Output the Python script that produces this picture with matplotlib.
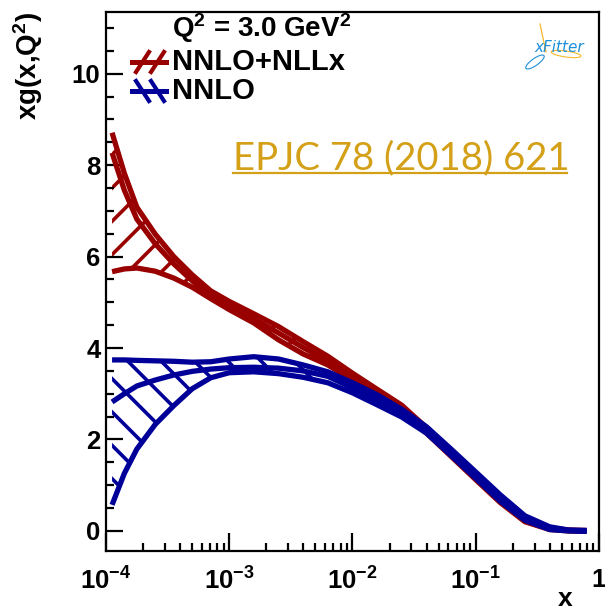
import matplotlib
matplotlib.use("Agg")
import matplotlib.pyplot as plt
from matplotlib.lines import Line2D
from matplotlib.patches import Ellipse
from matplotlib.ticker import FixedLocator, FixedFormatter, MultipleLocator

plt.rcParams['font.family'] = ['Liberation Sans', 'DejaVu Sans']
plt.rcParams['mathtext.fontset'] = 'custom'
plt.rcParams['mathtext.rm'] = 'Liberation Sans:bold'
plt.rcParams['mathtext.bf'] = 'Liberation Sans:bold'
plt.rcParams['mathtext.it'] = 'Liberation Sans:bold'
plt.rcParams['hatch.linewidth'] = 2.6

# x grid
x = [1.12e-4, 1.41e-4, 1.78e-4, 2.51e-4, 3.55e-4, 5.01e-4, 7.08e-4, 1e-3,
     1.58e-3, 2.51e-3, 3.98e-3, 6.31e-3, 1e-2, 1.58e-2, 2.51e-2, 3.98e-2,
     6.31e-2, 0.1, 0.158, 0.251, 0.398, 0.562, 0.794]

# NNLO+NLLx (red)
nllx_up = [8.71, 7.82, 7.08, 6.49, 6.00, 5.60, 5.25, 5.02,
           4.75, 4.47, 4.14, 3.82, 3.45, 3.10, 2.75, 2.26,
           1.74, 1.23, 0.72, 0.29, 0.07, 0.02, 0.01]
nllx_cen = [8.27, 7.45, 6.82, 6.28, 5.84, 5.47, 5.14, 4.92,
            4.64, 4.33, 4.01, 3.72, 3.37, 3.04, 2.68, 2.20,
            1.69, 1.18, 0.68, 0.25, 0.05, 0.01, 0.0]
nllx_lo = [5.67, 5.73, 5.75, 5.68, 5.53, 5.33, 5.08, 4.84,
           4.55, 4.18, 3.87, 3.63, 3.30, 2.98, 2.60, 2.14,
           1.63, 1.12, 0.62, 0.20, 0.03, 0.0, -0.01]

# NNLO (blue)
nnlo_up = [3.74, 3.74, 3.73, 3.72, 3.71, 3.69, 3.70, 3.76,
           3.81, 3.76, 3.63, 3.48, 3.24, 2.98, 2.66, 2.28,
           1.79, 1.29, 0.79, 0.33, 0.09, 0.02, 0.01]
nnlo_cen = [2.82, 3.00, 3.17, 3.30, 3.41, 3.49, 3.54, 3.57,
            3.58, 3.56, 3.50, 3.38, 3.13, 2.86, 2.57, 2.21,
            1.72, 1.22, 0.72, 0.28, 0.06, 0.01, 0.0]
nnlo_lo = [0.57, 1.26, 1.79, 2.33, 2.74, 3.11, 3.35, 3.46,
           3.48, 3.44, 3.36, 3.24, 3.02, 2.76, 2.49, 2.14,
           1.65, 1.15, 0.65, 0.23, 0.03, 0.0, -0.01]

yticks = [0, 2, 4, 6, 8, 10]
xticks = [1e-4, 1e-3, 1e-2, 1e-1, 1]
xticklabels = [r'$10^{-4}$', r'$10^{-3}$', r'$10^{-2}$', r'$10^{-1}$', r'$1$']

red = '#990000'
blue = '#000099'
gold = '#D4A017'
lw = 3.8

W, H = 605, 610
fig = plt.figure(figsize=(6.05, 6.10), dpi=100)
ax = fig.add_axes([0.1752, 0.0967, 0.8148, 0.8836])

for up, cen, lo, col, hat in [(nllx_up, nllx_cen, nllx_lo, red, '/'),
                              (nnlo_up, nnlo_cen, nnlo_lo, blue, '\\')]:
    ax.fill_between(x, lo, up, facecolor='none', edgecolor=col, hatch=hat, linewidth=0)
    ax.plot(x, up, color=col, lw=lw, solid_capstyle='butt', solid_joinstyle='round')
    ax.plot(x, lo, color=col, lw=lw, solid_capstyle='butt', solid_joinstyle='round')
    ax.plot(x, cen, color=col, lw=lw, solid_capstyle='butt', solid_joinstyle='round')

ax.set_xscale('log')
ax.set_xlim(1e-4, 1)
ax.set_ylim(-0.44, 11.35)

ax.xaxis.set_major_locator(FixedLocator(xticks))
ax.xaxis.set_major_formatter(FixedFormatter(xticklabels))
ax.yaxis.set_major_locator(FixedLocator(yticks))
ax.yaxis.set_minor_locator(MultipleLocator(0.5))
ax.tick_params(which='both', direction='in', top=False, right=False, width=1.6)
ax.tick_params(which='major', length=12)
ax.tick_params(which='minor', length=6)
ax.tick_params(axis='x', which='major', labelsize=18.5, pad=12, length=13)
ax.tick_params(axis='y', which='major', labelsize=18.5, pad=4)
for lab in ax.get_yticklabels():
    lab.set_fontweight('bold')
for s in ax.spines.values():
    s.set_linewidth(1.6)

ax.set_xlabel('x', fontsize=19, fontweight='bold')
ax.xaxis.set_label_coords((565 - 106) / 493, -0.066)
ax.set_ylabel(r'xg(x,Q$^{2}$)', fontsize=20, fontweight='bold', loc='top')
ax.yaxis.set_label_coords(-0.124, 1.0)

# legend
fig.text(172 / W, 1 - 37 / H, r'Q$^{2}$ = 3.0 GeV$^{2}$',
         fontsize=20, fontweight='bold', va='baseline', ha='left')
for ytxt, yc, label, col, sgn in [(70, 62, 'NNLO+NLLx', red, 1), (99, 91, 'NNLO', blue, -1)]:
    fig.add_artist(Line2D([132 / W, 166 / W], [1 - yc / H, 1 - yc / H], color=col, lw=3.6))
    for x0 in (136, 151):
        fig.add_artist(Line2D([x0 / W, (x0 + 13) / W],
                              [1 - (yc + 10 * sgn) / H, 1 - (yc - 10 * sgn) / H],
                              color=col, lw=3.0))
    fig.text(172 / W, 1 - ytxt / H, label, fontsize=21, fontweight='bold', va='baseline', ha='left')

# reference tag
ax.text((233 - 106) / 493, (551 - 169) / 539, 'EPJC 78 (2018) 621', transform=ax.transAxes,
        color=gold, fontsize=27.5, family='Lato', fontweight='normal', va='baseline', ha='left')
fig.add_artist(Line2D([233 / W, 567 / W], [1 - 173 / H, 1 - 173 / H], color=gold, lw=1.6))

# xFitter logo
fig.text(559 / W, 1 - 47 / H, 'xFitter', color='#1E8FD8', fontsize=11,
         style='italic', family='DejaVu Sans', ha='center', va='center')
fig.add_artist(Ellipse((535 / W, 1 - 62 / H), 22 / W, 7 / H, angle=35,
                       fill=False, edgecolor='#1E8FD8', lw=0.8))
fig.add_artist(Ellipse((566 / W, 1 - 54 / H), 30 / W, 6 / H, angle=-8,
                       fill=False, edgecolor='#F5B82E', lw=0.8))
fig.add_artist(Line2D([540 / W, 546 / W], [1 - 24 / H, 1 - 52 / H], color='#F5B82E', lw=0.9))

fig.savefig('out.png', dpi=100)
